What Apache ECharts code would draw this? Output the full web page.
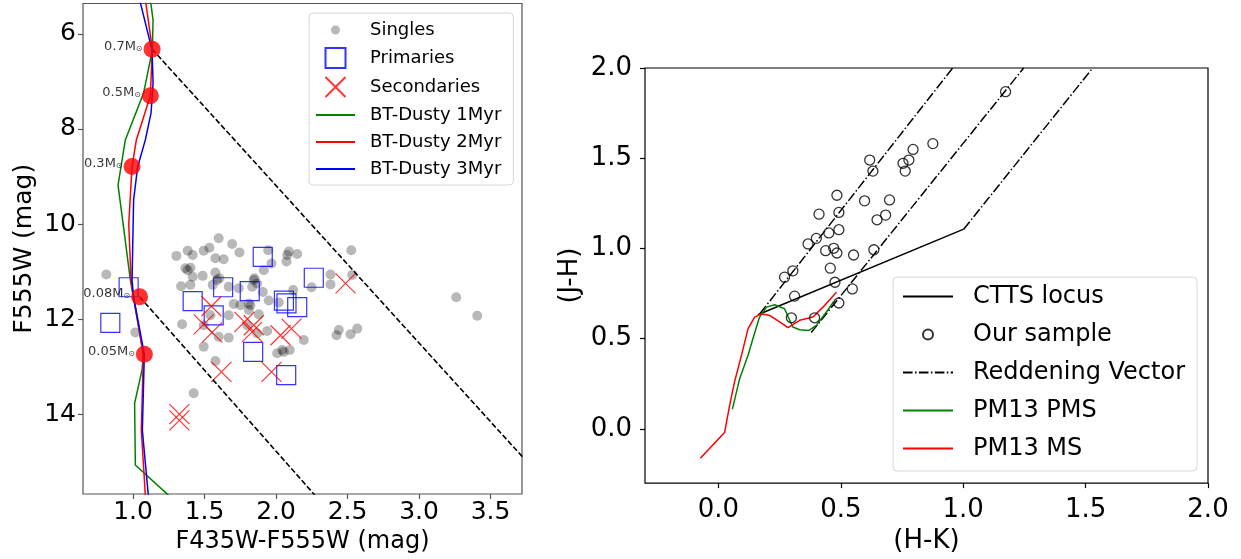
<!DOCTYPE html>
<html><head><meta charset="utf-8">
<script src="https://cdn.jsdelivr.net/npm/echarts@6/dist/echarts.min.js"></script>
<style>html,body{margin:0;padding:0;background:#fff}#c{width:1241px;height:559px}</style>
</head><body><div id="c"></div><script>
// ---------- Left panel data (CMD) ----------
const leftXTicks = [1.0, 1.5, 2.0, 2.5, 3.0, 3.5];
const leftYTicks = [6, 8, 10, 12, 14];
const singles = [
[1.599,10.30],[1.693,10.42],[1.303,10.67],[1.382,10.56],[1.417,10.65],[1.494,10.56],[1.534,10.50],[1.576,10.72],[1.634,10.74],[1.744,10.60],
[1.945,10.55],[1.968,10.83],[2.089,10.58],[2.148,10.63],[2.073,10.79],[2.526,10.55],[1.366,10.93],[1.401,10.92],[1.417,11.11],[1.487,11.09],
[1.576,11.02],[1.604,11.14],[1.557,11.28],[1.336,11.31],[1.401,11.28],[1.669,11.32],[1.739,11.35],[1.849,11.14],[1.868,11.25],[1.914,10.97],
[1.833,11.32],[1.907,11.43],[1.704,11.68],[1.751,11.71],[1.821,11.71],[1.949,11.61],[2.019,11.65],[2.120,11.39],[2.248,11.33],[2.381,11.06],
[2.381,11.27],[2.533,11.07],[1.669,11.92],[1.541,11.92],[1.343,12.11],[1.494,12.13],[1.809,11.81],[1.879,11.90],[1.798,12.13],[1.938,12.25],
[1.599,12.37],[1.669,12.39],[1.494,12.58],[1.868,12.30],[2.194,12.44],[2.008,12.72],[2.043,12.65],[2.096,12.65],[2.439,12.23],[2.423,12.34],
[2.521,12.32],[2.568,12.20],[1.576,12.88],[0.813,11.06],[1.016,12.28],[1.424,13.56],[3.260,11.54],[3.407,11.93],
[1.382,10.97],[1.588,11.18],[1.844,11.18],[1.809,11.67],[2.078,10.65],[2.054,12.69]
];
const primaries = [
[1.907,10.69],[2.264,11.13],[1.417,11.62],[1.630,11.33],[1.816,11.41],[1.564,11.92],[2.055,11.61],[2.073,11.67],[2.148,11.75],
[1.840,12.69],[2.071,13.18],[0.969,11.33],[0.841,12.08]
];
const secondaries = [
[1.548,11.73],[1.494,12.11],[1.553,12.28],[1.779,12.06],[1.844,12.13],[1.833,12.27],[2.031,12.34],[2.108,12.20],
[1.618,13.11],[1.968,13.11],[2.486,11.25],[1.324,14.00],[1.324,14.13]
];
const iso1Myr = [[1.121,5.28],[1.140,5.71],[1.135,6.34],[1.074,7.24],[0.946,8.23],[0.895,9.18],[0.939,10.19],[0.981,11.18],[1.002,11.54],[1.072,12.74],[1.063,13.07],[1.011,13.77],[1.016,15.07],[1.249,15.71]];
const iso2Myr = [[1.086,5.28],[1.135,6.32],[1.121,7.30],[1.023,8.23],[0.993,8.79],[0.970,10.00],[0.986,11.18],[1.004,11.54],[1.072,12.74],[1.058,14.34],[1.086,15.71]];
const iso3Myr = [[1.046,5.28],[1.133,6.34],[1.140,7.03],[1.126,7.66],[1.086,8.23],[1.032,8.80],[1.004,9.49],[0.993,11.18],[1.004,11.54],[1.079,12.74],[1.065,14.34],[1.107,15.71]];
const massPoints = [[1.133,6.32,'0.7'],[1.121,7.30,'0.5'],[0.993,8.79,'0.3'],[1.046,11.53,'0.08'],[1.079,12.74,'0.05']];
const limitUpper = [[1.133,6.32],[3.724,14.90]];
const limitLower = [[1.046,11.53],[2.276,15.72]];

// ---------- Right panel data (colour-colour) ----------
const rightTicks = [0.0, 0.5, 1.0, 1.5, 2.0];
const ourSample = [
[0.876,1.581],[0.795,1.549],[0.778,1.490],[0.754,1.472],[0.763,1.429],[0.618,1.490],[0.631,1.429],[0.484,1.295],[0.597,1.264],[0.699,1.269],
[0.492,1.200],[0.411,1.190],[0.648,1.159],[0.683,1.185],[0.492,1.104],[0.451,1.086],[0.400,1.056],[0.366,1.025],[0.438,0.988],[0.471,1.001],
[0.484,0.975],[0.635,0.993],[0.552,0.964],[0.457,0.891],[0.304,0.876],[0.270,0.841],[0.476,0.813],[0.311,0.736],[0.547,0.776],[0.492,0.698],
[0.298,0.616],[0.393,0.616],[1.173,1.869]
];
const cttsLocus = [[0.161,0.633],[1.002,1.107]];
const redVec1 = [[0.17,0.64],[0.957,2.0]];
const redVec2 = [[0.379,0.534],[1.247,2.0]];
const redVec3 = [[1.002,1.107],[1.529,2.0]];
const pm13PMS = [[0.057,0.110],[0.087,0.280],[0.121,0.408],[0.145,0.519],[0.168,0.620],[0.196,0.675],[0.230,0.688],[0.270,0.666],[0.304,0.565],[0.332,0.550],[0.370,0.546],[0.400,0.574],[0.441,0.648],[0.471,0.706]];
const pm13MS = [[-0.074,-0.162],[0.025,-0.020],[0.046,0.132],[0.066,0.262],[0.094,0.408],[0.121,0.556],[0.148,0.620],[0.175,0.638],[0.209,0.629],[0.250,0.593],[0.284,0.561],[0.332,0.602],[0.386,0.620],[0.427,0.675],[0.482,0.758]];

const FONT = 'DejaVu Sans';
const DASH = [5.5, 2.4];
const DASHDOT = [9.6, 2.4, 1.5, 2.4];
const DOT_ICON = 'path://M0 0L0.01 0ZM20 20L19.99 20ZM14.5 10A4.5 4.5 0 1 1 5.5 10A4.5 4.5 0 1 1 14.5 10Z';
const SQUARE_ICON = 'path://M0 0L20 0L20 20L0 20Z';
const X_SYMBOL = 'path://M0 0L20 20M20 0L0 20';
const NOSYM = {opacity:0};

function lineSeries(name, data, color, xi, type, width) {
  return { type:'line', name, data, xAxisIndex:xi, yAxisIndex:xi, symbol:'none', silent:true,
    lineStyle:{ color, width: width || 1.5, type: type || 'solid' },
    itemStyle:{color:'rgba(0,0,0,0)', borderWidth:0}, z:3, animation:false };
}

const chart = echarts.init(document.getElementById('c'), null, {renderer:'canvas'});
const option = {
  animation:false,
  backgroundColor:'#fff',
  textStyle:{fontFamily:FONT},
  grid:[
    {left:83, top:3.5, width:439, height:492, show:true, borderColor:'#555', borderWidth:1.2, backgroundColor:'transparent'},
    {left:645, top:68, width:563, height:417, show:true, borderColor:'#000', borderWidth:1.2, backgroundColor:'transparent'}
  ],
  xAxis:[
    {type:'value', gridIndex:0, min:0.65, max:3.72, splitLine:{show:false}, axisLine:{show:false, onZero:false},
     axisTick:{show:true, length:5, customValues:leftXTicks, lineStyle:{color:'#555', width:1.2}},
     axisLabel:{customValues:leftXTicks, formatter:v=>v.toFixed(1), fontSize:25, color:'#000', margin:6, fontFamily:FONT},
     name:'F435W-F555W (mag)', nameLocation:'middle', nameGap:36, nameTextStyle:{fontSize:24, color:'#000', fontFamily:FONT}},
    {type:'value', gridIndex:1, min:-0.3, max:2.0, splitLine:{show:false}, axisLine:{show:false, onZero:false},
     axisTick:{show:true, length:5, customValues:rightTicks, lineStyle:{color:'#000', width:1.2}},
     axisLabel:{customValues:rightTicks, formatter:v=>v.toFixed(1), fontSize:26, color:'#000', margin:14, fontFamily:FONT},
     name:'(H-K)', nameLocation:'middle', nameGap:44, nameTextStyle:{fontSize:26, color:'#000', fontFamily:FONT}}
  ],
  yAxis:[
    {type:'value', gridIndex:0, inverse:true, min:5.36, max:15.68, splitLine:{show:false}, axisLine:{show:false, onZero:false},
     axisTick:{show:true, length:5, customValues:leftYTicks, lineStyle:{color:'#555', width:1.2}},
     axisLabel:{customValues:leftYTicks, formatter:v=>String(v), fontSize:25, color:'#000', margin:7, fontFamily:FONT},
     name:'F555W (mag)', nameLocation:'middle', nameGap:46, nameTextStyle:{fontSize:25, color:'#000', fontFamily:FONT}},
    {type:'value', gridIndex:1, min:-0.3, max:2.0, splitLine:{show:false}, axisLine:{show:false, onZero:false},
     axisTick:{show:true, length:5, customValues:rightTicks, lineStyle:{color:'#000', width:1.2}},
     axisLabel:{customValues:rightTicks, formatter:v=>v.toFixed(1), fontSize:26, color:'#000', margin:13, fontFamily:FONT},
     name:'(J-H)', nameLocation:'middle', nameGap:62, nameTextStyle:{fontSize:26, color:'#000', fontFamily:FONT}}
  ],
  legend:[
    {left:309, top:13, orient:'vertical', selectedMode:false, backgroundColor:'#fff', borderColor:'#d6d6d6', borderWidth:1, borderRadius:4,
     padding:[7,12,6,6], itemWidth:39, itemHeight:20, itemGap:7,
     textStyle:{fontSize:18, lineHeight:20, color:'#000', fontFamily:FONT, padding:[0,0,0,10]},
     data:[{name:'Singles', icon:DOT_ICON}, {name:'Primaries', icon:SQUARE_ICON}, {name:'Secondaries', icon:X_SYMBOL},
           {name:'BT-Dusty 1Myr', itemStyle:NOSYM}, {name:'BT-Dusty 2Myr', itemStyle:NOSYM}, {name:'BT-Dusty 3Myr', itemStyle:NOSYM}]},
    {left:893, top:277, orient:'vertical', selectedMode:false, backgroundColor:'#fff', borderColor:'#d6d6d6', borderWidth:1, borderRadius:4,
     padding:[7,12,10,9], itemWidth:50, itemHeight:10, itemGap:13,
     textStyle:{fontSize:24, lineHeight:25, color:'#000', fontFamily:FONT, padding:[0,0,0,15]},
     data:[{name:'CTTS locus', itemStyle:NOSYM}, 'Our sample', {name:'Reddening Vector', itemStyle:NOSYM},
           {name:'PM13 PMS', itemStyle:NOSYM}, {name:'PM13 MS', itemStyle:NOSYM}]}
  ],
  series:[
    {type:'scatter', name:'Singles', data:singles, xAxisIndex:0, yAxisIndex:0, symbol:'circle', symbolSize:10,
     itemStyle:{color:'rgba(0,0,0,0.35)'}, z:2, silent:true},
    {type:'scatter', name:'Primaries', data:primaries, xAxisIndex:0, yAxisIndex:0, symbol:'rect', symbolSize:19,
     itemStyle:{color:'transparent', borderColor:'#0000ff', borderWidth:1.2}, z:2, silent:true},
    {type:'scatter', name:'Secondaries', data:secondaries, xAxisIndex:0, yAxisIndex:0, symbol:X_SYMBOL, symbolSize:20,
     itemStyle:{color:'transparent', borderColor:'#ff0000', borderWidth:1.2}, z:2, silent:true},
    lineSeries('limitUpper', limitUpper, '#000', 0, DASH, 1.6),
    lineSeries('limitLower', limitLower, '#000', 0, DASH, 1.6),
    lineSeries('BT-Dusty 1Myr', iso1Myr, '#008000', 0),
    lineSeries('BT-Dusty 2Myr', iso2Myr, '#ff0000', 0),
    lineSeries('BT-Dusty 3Myr', iso3Myr, '#0000ff', 0),
    {type:'scatter', name:'masses', data:massPoints, xAxisIndex:0, yAxisIndex:0, symbol:'circle', symbolSize:17,
     itemStyle:{color:'#ff0000'}, z:4, silent:true,
     label:{show:true, position:'left', distance:1, offset:[0,-3], color:'#000', fontSize:13, fontFamily:FONT,
       formatter:p=>p.value[2]+'M{s|⊙}', rich:{s:{fontSize:8, verticalAlign:'bottom', color:'#000', fontFamily:FONT}}}},

    lineSeries('Reddening Vector', redVec1, '#000', 1, DASHDOT, 1.5),
    lineSeries('Reddening Vector', redVec2, '#000', 1, DASHDOT, 1.5),
    lineSeries('Reddening Vector', redVec3, '#000', 1, DASHDOT, 1.5),
    lineSeries('CTTS locus', cttsLocus, '#000', 1, 'solid', 1.5),
    {type:'scatter', name:'Our sample', data:ourSample, xAxisIndex:1, yAxisIndex:1, symbol:'circle', symbolSize:10,
     itemStyle:{color:'transparent', borderColor:'#000', borderWidth:1.3}, z:3, silent:true},
    lineSeries('PM13 PMS', pm13PMS, '#008000', 1, 'solid', 1.5),
    lineSeries('PM13 MS', pm13MS, '#ff0000', 1, 'solid', 1.5)
  ]
};
chart.setOption(option);
</script></body></html>
